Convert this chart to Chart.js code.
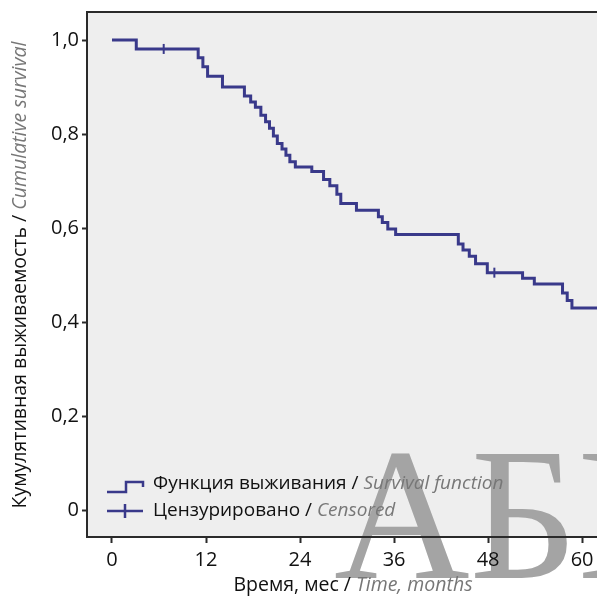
<!DOCTYPE html>
<html lang="ru">
<head>
<meta charset="utf-8">
<title>Кумулятивная выживаемость</title>
<script src="https://cdn.jsdelivr.net/npm/chart.js@4.4.1/dist/chart.umd.min.js"></script>
<style>
  html, body { margin: 0; padding: 0; background: #fff; }
  #wrap { width: 597px; height: 596px; }
</style>
</head>
<body>
<div id="wrap"><canvas id="km"></canvas></div>
<script>
// Кривая Каплана–Мейера: время шага (мес) и выживаемость после шага
const stepTimes = [0, 3.1, 11.0, 11.6, 12.2, 14.1, 16.9, 17.7, 18.3, 19.0, 19.6, 20.1, 20.6, 21.1, 21.7, 22.2, 22.7, 23.4,
                   25.5, 27.0, 27.8, 28.7, 29.2, 31.2, 34.0, 34.5, 35.2, 36.2, 44.2, 44.8, 45.6, 46.4, 47.9,
                   52.4, 53.9, 57.5, 58.1, 58.7, 62];
const survival = [1.0, 0.981, 0.962, 0.943, 0.923, 0.900, 0.881, 0.868, 0.857, 0.840, 0.826, 0.812, 0.796, 0.780, 0.768, 0.755, 0.741, 0.730,
                  0.720, 0.703, 0.690, 0.672, 0.652, 0.638, 0.624, 0.612, 0.598, 0.586, 0.566, 0.553, 0.540, 0.524, 0.505,
                  0.493, 0.481, 0.462, 0.446, 0.430, 0.430];
// Цензурированные наблюдения
const censorTimes = [6.6, 48.8];
const censorSurvival = [0.981, 0.505];
// Деления осей
const xTicks = [0, 12, 24, 36, 48, 60];
const yTicks = [0, 0.2, 0.4, 0.6, 0.8, 1.0];

const LINE = '#39398a';
const FRAME = '#2a2a2a';
const FONT = '"Open Sans", "Noto Sans", sans-serif';

function drawParts(ctx, parts, x, y) {
    let cx = x;
    parts.forEach(p => {
        ctx.font = p.font;
        ctx.fillStyle = p.color;
        ctx.fillText(p.text, cx, y);
        cx += ctx.measureText(p.text).width;
    });
}

function partsWidth(ctx, parts) {
    let w = 0;
    parts.forEach(p => { ctx.font = p.font; w += ctx.measureText(p.text).width; });
    return w;
}

const decor = {
    id: 'decor',
    beforeDraw(chart) {
        const { ctx, chartArea: a } = chart;
        ctx.save();
        ctx.fillStyle = '#ffffff';
        ctx.fillRect(0, 0, chart.width, chart.height);
        ctx.fillStyle = '#eeeeee';
        ctx.fillRect(a.left, a.top, a.right - a.left, a.bottom - a.top);
        // водяной знак издательства
        ctx.fillStyle = '#a4a4a4';
        ctx.font = '188px "Liberation Serif", "DejaVu Serif", serif';
        ctx.textBaseline = 'alphabetic';
        ctx.fillText('АБВ', 334, 578);
        ctx.restore();
    },
    afterDraw(chart) {
        const { ctx, chartArea: a } = chart;
        ctx.save();
        // верхняя граница рамки
        ctx.strokeStyle = FRAME;
        ctx.lineWidth = 2;
        ctx.beginPath();
        ctx.moveTo(a.left - 1, a.top);
        ctx.lineTo(a.right, a.top);
        ctx.stroke();

        ctx.textBaseline = 'middle';
        const reg = '19.5px ' + FONT;
        const ita = 'italic 19.5px ' + FONT;

        // подпись оси X
        const xParts = [
            { text: 'Время, мес / ', font: reg, color: '#111' },
            { text: 'Time, months', font: ita, color: '#777' }
        ];
        const xw = partsWidth(ctx, xParts);
        drawParts(ctx, xParts, 353 - xw / 2, 585);

        // подпись оси Y
        const yParts = [
            { text: 'Кумулятивная выживаемость / ', font: reg, color: '#111' },
            { text: 'Cumulative survival', font: ita, color: '#777' }
        ];
        ctx.save();
        ctx.translate(20, 275);
        ctx.rotate(-Math.PI / 2);
        const yw = partsWidth(ctx, yParts);
        drawParts(ctx, yParts, -yw / 2, 0);
        ctx.restore();

        // легенда
        ctx.strokeStyle = LINE;
        ctx.lineWidth = 2.5;
        ctx.beginPath();
        ctx.moveTo(107, 492);
        ctx.lineTo(126, 492);
        ctx.lineTo(126, 482);
        ctx.lineTo(143, 482);
        ctx.lineTo(143, 487);
        ctx.stroke();
        ctx.beginPath();
        ctx.moveTo(107, 511);
        ctx.lineTo(143, 511);
        ctx.moveTo(125, 504);
        ctx.lineTo(125, 518);
        ctx.stroke();

        const lreg = '19px ' + FONT;
        const lita = 'italic 19px ' + FONT;
        drawParts(ctx, [
            { text: 'Функция выживания / ', font: lreg, color: '#111' },
            { text: 'Survival function', font: lita, color: '#777' }
        ], 153, 484);
        drawParts(ctx, [
            { text: 'Цензурировано / ', font: lreg, color: '#111' },
            { text: 'Censored', font: lita, color: '#777' }
        ], 153, 511);
        ctx.restore();
    }
};

new Chart(document.getElementById('km'), {
    type: 'line',
    data: {
        datasets: [
            {
                label: 'Функция выживания',
                data: stepTimes.map((t, i) => ({ x: t, y: survival[i] })),
                stepped: 'before',
                borderColor: LINE,
                borderWidth: 3,
                pointRadius: 0,
                fill: false
            },
            {
                label: 'Цензурировано',
                data: censorTimes.map((t, i) => ({ x: t, y: censorSurvival[i] })),
                showLine: false,
                pointStyle: 'line',
                rotation: 90,
                pointRadius: 5,
                borderColor: LINE,
                borderWidth: 2
            }
        ]
    },
    options: {
        responsive: true,
        maintainAspectRatio: false,
        animation: false,
        layout: { autoPadding: false, padding: { top: 12, right: 0, left: 0, bottom: 0 } },
        plugins: {
            legend: { display: false },
            tooltip: { enabled: false }
        },
        scales: {
            x: {
                type: 'linear',
                min: -3.19,
                max: 61.9,
                afterBuildTicks: s => { s.ticks = xTicks.map(v => ({ value: v })); },
                afterFit: s => { s.height = 59; s.paddingLeft = 0; s.paddingRight = 0; },
                ticks: {
                    color: '#111',
                    font: { family: FONT, size: 20 },
                    padding: 5,
                    maxRotation: 0
                },
                grid: { drawOnChartArea: false, drawTicks: true, tickLength: 6, tickWidth: 2, tickColor: FRAME },
                border: { display: true, color: FRAME, width: 2 }
            },
            y: {
                type: 'linear',
                min: -0.0574,
                max: 1.0596,
                afterBuildTicks: s => { s.ticks = yTicks.map(v => ({ value: v })); },
                afterFit: s => { s.width = 87; s.paddingTop = 0; s.paddingBottom = 0; },
                ticks: {
                    color: '#111',
                    font: { family: FONT, size: 20 },
                    padding: 3,
                    callback: v => v === 0 ? '0' : v.toFixed(1).replace('.', ',')
                },
                grid: { drawOnChartArea: false, drawTicks: true, tickLength: 5, tickWidth: 2, tickColor: FRAME },
                border: { display: true, color: FRAME, width: 2 }
            }
        }
    },
    plugins: [decor]
});
</script>
</body>
</html>
